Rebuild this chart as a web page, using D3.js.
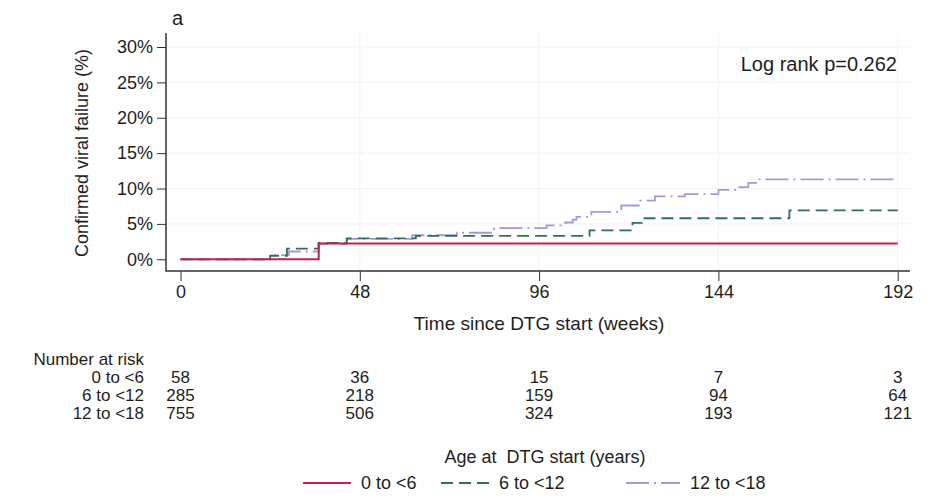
<!DOCTYPE html>
<html>
<head>
<meta charset="utf-8">
<script src="https://cdn.jsdelivr.net/npm/d3@7"></script>
<style>
  body { margin: 0; background: #fff; }
  svg { display: block; font-family: "Liberation Sans", Arial, sans-serif; }
  .axis text { font-size: 18px; fill: #1e1e1e; }
  .axis line { stroke: #333; }
</style>
</head>
<body>
<svg id="chart" width="932" height="498"></svg>
<script>
// step curves (weeks, % with confirmed viral failure)
const groups = ['0 to <6', '6 to <12', '12 to <18'];
const weeksA = [0, 37, 192];
const failA = [0, 2.25, 2.25];
const weeksB = [0, 24, 28.5, 37, 44.5, 63, 109.5, 121, 123.5, 163, 192];
const failB = [0, 0.5, 1.5, 2.3, 2.95, 3.3, 4.1, 5.15, 5.8, 6.9, 6.9];
const weeksC = [0, 25, 29, 37, 44.5, 62, 74, 84, 98, 103, 105, 106, 110, 118, 123, 127, 135, 144, 149, 152, 155, 192];
const failC = [0, 0.6, 1.1, 2.2, 2.9, 3.4, 3.75, 4.4, 4.8, 5.2, 5.6, 6.0, 6.7, 7.6, 8.3, 8.9, 9.2, 9.8, 10.2, 10.8, 11.3, 11.3];

const xTicks = [0, 48, 96, 144, 192];
const yTicks = [0, 5, 10, 15, 20, 25, 30];

// number at risk at each x tick
const riskA = [58, 36, 15, 7, 3];
const riskB = [285, 218, 159, 94, 64];
const riskC = [755, 506, 324, 193, 121];

const colors = ['#c3234b', '#2f6f57', '#a19bd8'];
const dashes = [null, '12,6', '23,5,2,5'];

const svg = d3.select('#chart');
const left = 166, bottom = 271;

const x = d3.scaleLinear().domain([0, 192]).range([180.5, 897.7]);
const y = d3.scaleLinear().domain([0, 30]).range([259.3, 47]);

// faint grid
svg.append('g').selectAll('line')
  .data(yTicks.slice(1))
  .enter().append('line')
  .attr('x1', left + 1).attr('x2', 910)
  .attr('y1', d => y(d)).attr('y2', d => y(d))
  .attr('stroke', '#f2f2f2');
svg.append('g').selectAll('line')
  .data(xTicks.slice(1))
  .enter().append('line')
  .attr('x1', d => x(d)).attr('x2', d => x(d))
  .attr('y1', 33).attr('y2', bottom - 1)
  .attr('stroke', '#f2f2f2');

// axes
const yAxis = svg.append('g').attr('class', 'axis')
  .attr('transform', 'translate(' + left + ',0)')
  .call(d3.axisLeft(y).tickValues(yTicks).tickFormat(d => d + '%').tickSize(9).tickPadding(4));
yAxis.select('.domain').remove();

const xAxis = svg.append('g').attr('class', 'axis')
  .attr('transform', 'translate(0,' + bottom + ')')
  .call(d3.axisBottom(x).tickValues(xTicks).tickFormat(d3.format('d')).tickSize(10).tickPadding(4));
xAxis.select('.domain').remove();

svg.append('line').attr('x1', left).attr('x2', left).attr('y1', 33).attr('y2', bottom + 0.5)
  .attr('stroke', '#333').attr('stroke-width', 1.5);
svg.append('line').attr('x1', left).attr('x2', 910).attr('y1', bottom).attr('y2', bottom)
  .attr('stroke', '#333').attr('stroke-width', 1.5);

// curves
const line = d3.line()
  .x(d => x(d[0]))
  .y(d => y(d[1]))
  .curve(d3.curveStepAfter);

const series = [
  d3.zip(weeksA, failA),
  d3.zip(weeksB, failB),
  d3.zip(weeksC, failC)
];

// draw purple first, then green, red on top
[2, 1, 0].forEach(i => {
  svg.append('path')
    .datum(series[i])
    .attr('d', line)
    .attr('fill', 'none')
    .attr('stroke', colors[i])
    .attr('stroke-width', i === 0 ? 2 : 1.8)
    .attr('stroke-dasharray', dashes[i]);
});

// titles
svg.append('text').attr('x', 172).attr('y', 25).attr('font-size', 20).attr('fill', '#1e1e1e').text('a');
svg.append('text')
  .attr('transform', 'translate(88,153) rotate(-90)')
  .attr('text-anchor', 'middle').attr('font-size', 18).attr('fill', '#1e1e1e')
  .text('Confirmed viral failure (%)');
svg.append('text').attr('x', 539).attr('y', 330).attr('text-anchor', 'middle')
  .attr('font-size', 19).attr('fill', '#1e1e1e').text('Time since DTG start (weeks)');
svg.append('text').attr('x', 897).attr('y', 71).attr('text-anchor', 'end')
  .attr('font-size', 20).attr('fill', '#1e1e1e').text('Log rank p=0.262');

// number at risk table
const risk = [riskA, riskB, riskC];
svg.append('text').attr('x', 144).attr('y', 365).attr('text-anchor', 'end')
  .attr('font-size', 17).attr('fill', '#1e1e1e').text('Number at risk');
risk.forEach((row, i) => {
  const ry = 383 + i * 18;
  svg.append('text').attr('x', 144).attr('y', ry).attr('text-anchor', 'end')
    .attr('font-size', 17).attr('fill', '#1e1e1e').text(groups[i]);
  svg.append('g').selectAll('text')
    .data(row)
    .enter().append('text')
    .attr('x', (d, j) => x(xTicks[j]))
    .attr('y', ry)
    .attr('text-anchor', 'middle')
    .attr('font-size', 17).attr('fill', '#1e1e1e')
    .text(d => d);
});

// legend
svg.append('text').attr('x', 545).attr('y', 463).attr('text-anchor', 'middle')
  .attr('font-size', 18).attr('fill', '#1e1e1e').attr('xml:space', 'preserve')
  .text('Age at  DTG start (years)');
const legX = [303, 441, 626];
const lg = svg.append('g').selectAll('g')
  .data(groups)
  .enter().append('g')
  .attr('transform', (d, i) => 'translate(' + legX[i] + ',483)');
lg.append('line')
  .attr('x1', 0).attr('x2', (d, i) => i === 2 ? 54 : 48).attr('y1', 0).attr('y2', 0)
  .attr('stroke', (d, i) => colors[i])
  .attr('stroke-width', 2)
  .attr('stroke-dasharray', (d, i) => i === 1 ? '12,6' : dashes[i]);
lg.append('text')
  .attr('x', (d, i) => i === 2 ? 64 : 58).attr('y', 6)
  .attr('font-size', 18).attr('fill', '#1e1e1e')
  .text(d => d);
</script>
</body>
</html>
